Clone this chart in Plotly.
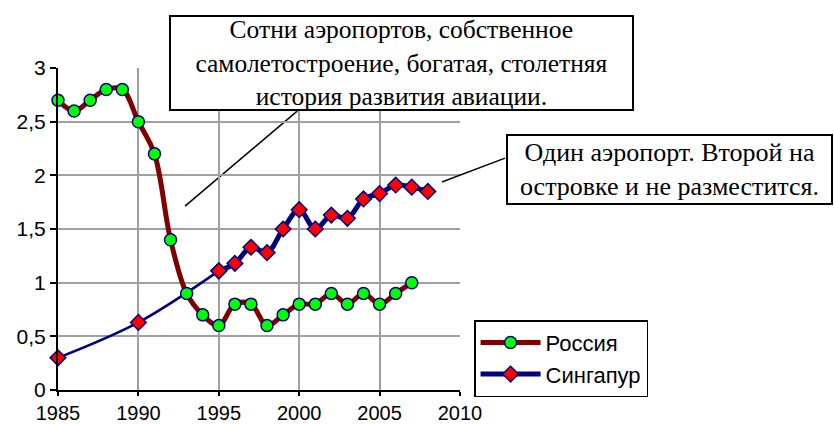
import plotly.graph_objects as go

# Data
years_ru = list(range(1985, 2008))
russia = [2.7, 2.6, 2.7, 2.8, 2.8, 2.5, 2.2, 1.4, 0.9, 0.7, 0.6, 0.8, 0.8, 0.6,
          0.7, 0.8, 0.8, 0.9, 0.8, 0.9, 0.8, 0.9, 1.0]

years_sg_early = [1985, 1990, 1995]
singapore_early = [0.3, 0.63, 1.11]

years_sg = list(range(1995, 2009))
singapore = [1.11, 1.18, 1.33, 1.28, 1.50, 1.68, 1.50, 1.63, 1.60, 1.78, 1.83,
             1.91, 1.89, 1.85]

NAVY = "#000080"
MAROON = "#800000"

fig = go.Figure()

# thin early part of Singapore (sparse years)
fig.add_trace(go.Scatter(
    x=years_sg_early, y=singapore_early,
    mode="lines+markers", line=dict(color=NAVY, width=2.5, shape="spline"),
    marker=dict(symbol="diamond", size=12, color="#FF0000", line=dict(color=NAVY, width=1.5)),
    showlegend=False, cliponaxis=False,
))

fig.add_trace(go.Scatter(
    x=years_ru, y=russia, name="Россия",
    mode="lines+markers", line=dict(color=MAROON, width=5, shape="spline"),
    marker=dict(symbol="circle", size=12, color="#00FF00", line=dict(color=NAVY, width=1.5)),
    cliponaxis=False,
))

fig.add_trace(go.Scatter(
    x=years_sg, y=singapore, name="Сингапур",
    mode="lines+markers", line=dict(color=NAVY, width=5, shape="spline"),
    marker=dict(symbol="diamond", size=12, color="#FF0000", line=dict(color=NAVY, width=1.5)),
    cliponaxis=False,
))

serif = "Liberation Serif, Times New Roman, serif"
box1 = ("Сотни аэропортов, собственное<br>"
        "самолетостроение, богатая, столетняя<br>"
        "история развития авиации.")
box2 = "Один аэропорт. Второй на<br>островке и не разместится."

fig.add_annotation(
    text=box1, xref="paper", yref="paper", x=0.854, y=1.0155,
    xanchor="center", yanchor="middle", showarrow=False,
    width=461, height=92, bgcolor="white", bordercolor="black",
    borderwidth=2, borderpad=0, font=dict(family=serif, size=25.5, color="black"),
)
fig.add_annotation(
    text=box2, xref="paper", yref="paper", x=1.521, y=0.685,
    xanchor="center", yanchor="middle", showarrow=False,
    width=323, height=67, bgcolor="white", bordercolor="black",
    borderwidth=2, borderpad=0, font=dict(family=serif, size=26, color="black"),
)

# callout lines
fig.add_shape(type="line", xref="paper", yref="paper",
              x0=0.316, y0=0.571, x1=0.595, y1=0.866,
              line=dict(color="black", width=1.5), layer="below")
fig.add_shape(type="line", xref="paper", yref="paper",
              x0=0.955, y0=0.646, x1=1.112, y1=0.720,
              line=dict(color="black", width=1.5))

axis_font = dict(family="Liberation Sans, Arial, sans-serif", size=21, color="black")

fig.update_xaxes(
    range=[1985, 2010], dtick=5, tick0=1985,
    showgrid=True, gridcolor="#A0A0A0", gridwidth=1.5,
    showline=True, linecolor="black", linewidth=2,
    ticks="outside", ticklen=4, tickwidth=2, tickcolor="black",
    tickfont=dict(axis_font, size=20), zeroline=False, automargin=False,
)
fig.update_yaxes(
    range=[0, 3], dtick=0.5, tick0=0,
    showgrid=True, gridcolor="#A0A0A0", gridwidth=1.5,
    showline=True, linecolor="black", linewidth=2,
    ticks="outside", ticklen=6, tickwidth=2, tickcolor="black",
    tickfont=axis_font, zeroline=False, automargin=False,
)

fig.update_layout(
    width=834, height=424,
    margin=dict(l=58, r=374, t=68, b=34, autoexpand=False),
    plot_bgcolor="white", paper_bgcolor="white",
    separators=", ",
    showlegend=True,
    legend=dict(
        x=1.035, y=0.217, xanchor="left", yanchor="top",
        bordercolor="black", borderwidth=1.5, bgcolor="white",
        font=dict(family="Liberation Sans, Arial, sans-serif", size=22, color="black"),
        itemwidth=60, tracegroupgap=6,
    ),
)

# page body has a default 8px margin; drop it so the figure sits at the corner
fig.write_html("out.html", config={"displayModeBar": False},
               post_script="document.body.style.margin='0';")
